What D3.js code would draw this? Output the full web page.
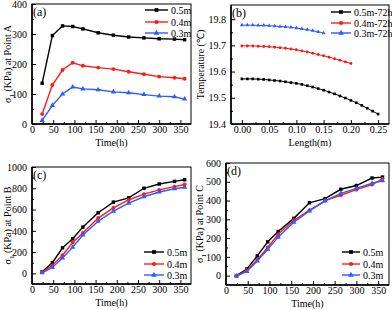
<!DOCTYPE html>
<html>
<head>
<meta charset="utf-8">
<script src="https://cdn.jsdelivr.net/npm/d3@7"></script>
<style>
  body { margin: 0; background: #fff; }
  svg text { font-family: "Liberation Serif", "Times New Roman", serif; }
</style>
</head>
<body>
<script>
// time points for panels a, c, d
let hours = [24, 48, 72, 96, 120, 156, 192, 228, 264, 300, 336, 360];
let depthNames = ["0.5m", "0.4m", "0.3m"];

// panel (a): stress at point A
let pointA05 = [136, 295, 327, 325, 317, 304, 296, 290, 287, 284, 283, 281];
let pointA04 = [33, 130, 180, 204, 194, 188, 183, 174, 166, 158, 154, 151];
let pointA03 = [12, 62, 100, 123, 117, 114, 107, 104, 98, 93, 91, 83];

// panel (b): temperature along length at 72h
let lengthStep = [0, 0.01, 0.02, 0.03, 0.04, 0.05, 0.06, 0.07, 0.08, 0.09, 0.10, 0.11, 0.12,
  0.13, 0.14, 0.15, 0.16, 0.17, 0.18, 0.19, 0.20, 0.21, 0.22, 0.23, 0.24, 0.25];
let temp05 = [19.572, 19.572, 19.572, 19.571, 19.570, 19.568, 19.566, 19.564, 19.561, 19.558,
  19.555, 19.551, 19.546, 19.541, 19.535, 19.529, 19.522, 19.515, 19.507, 19.499, 19.490,
  19.481, 19.471, 19.460, 19.449, 19.438];
let temp04 = [19.698, 19.698, 19.698, 19.697, 19.696, 19.695, 19.693, 19.691, 19.689, 19.686,
  19.683, 19.679, 19.675, 19.670, 19.665, 19.660, 19.655, 19.649, 19.643, 19.637, 19.631];
let temp03 = [19.777, 19.777, 19.777, 19.776, 19.776, 19.775, 19.774, 19.772, 19.771, 19.769,
  19.766, 19.763, 19.760, 19.756, 19.752, 19.747];
let tempNames = ["0.5m-72h", "0.4m-72h", "0.3m-72h"];

// panel (c): stress at point B
let pointB05 = [15, 100, 240, 325, 435, 570, 670, 710, 800, 840, 865, 880];
let pointB04 = [10, 75, 170, 290, 380, 520, 615, 690, 745, 785, 815, 835];
let pointB03 = [5, 55, 145, 245, 360, 490, 585, 660, 720, 765, 795, 810];

// panel (d): stress at point C
let pointC05 = [0, 35, 105, 180, 235, 305, 388, 410, 460, 480, 520, 525];
let pointC04 = [-2, 28, 85, 150, 220, 295, 348, 400, 428, 458, 485, 515];
let pointC03 = [-2, 22, 78, 140, 205, 285, 345, 398, 438, 465, 492, 505];

let colors = ["#000000", "#ff1a1a", "#2f5bff"];
let shapes = [d3.symbolSquare, d3.symbolCircle, d3.symbolTriangle];

let svg = d3.select("body").append("svg")
  .attr("width", 392)
  .attr("height", 310);

function drawPanel(opt) {
  let x = d3.scaleLinear().domain(opt.xDomain).range([opt.left, opt.right]);
  let y = d3.scaleLinear().domain(opt.yDomain).range([opt.bottom, opt.top]);
  let g = svg.append("g");

  // minor ticks
  let xMinor = d3.axisBottom(x).tickValues(opt.xMinor).tickSize(-2).tickFormat("");
  let yMinor = d3.axisLeft(y).tickValues(opt.yMinor).tickSize(-2).tickFormat("");
  g.append("g").attr("transform", "translate(0," + opt.bottom + ")").call(xMinor);
  g.append("g").attr("transform", "translate(" + opt.left + ",0)").call(yMinor);

  // major ticks
  let xAxis = d3.axisBottom(x).tickValues(opt.xTicks).tickSize(-4).tickPadding(2)
    .tickFormat(opt.xFormat);
  let yAxis = d3.axisLeft(y).tickValues(opt.yTicks).tickSize(-4).tickPadding(5)
    .tickFormat(opt.yFormat);
  g.append("g").attr("transform", "translate(0," + opt.bottom + ")").call(xAxis);
  g.append("g").attr("transform", "translate(" + opt.left + ",0)").call(yAxis);

  g.selectAll(".domain").remove();
  g.selectAll(".tick line").attr("stroke", "#000").attr("stroke-width", 1);
  g.selectAll(".tick text").attr("font-size", 10).attr("fill", "#000");

  // frame
  g.append("rect")
    .attr("x", opt.left).attr("y", opt.top)
    .attr("width", opt.right - opt.left).attr("height", opt.bottom - opt.top)
    .attr("fill", "none").attr("stroke", "#000").attr("stroke-width", 1);
  g.append("line").attr("x1", opt.left).attr("x2", opt.left)
    .attr("y1", opt.top).attr("y2", opt.bottom)
    .attr("stroke", "#000").attr("stroke-width", 1.6);
  g.append("line").attr("x1", opt.left).attr("x2", opt.right)
    .attr("y1", opt.bottom).attr("y2", opt.bottom)
    .attr("stroke", "#000").attr("stroke-width", 1.6);

  // series
  let line = d3.line().x(d => x(d[0])).y(d => y(d[1]));
  opt.series.forEach(function(vals, i) {
    let pts = vals.map((v, k) => [opt.xs[k], v]);
    g.append("path").datum(pts)
      .attr("d", line)
      .attr("fill", "none")
      .attr("stroke", colors[i])
      .attr("stroke-width", opt.lineWidth);
    g.selectAll(".m" + i).data(pts).enter()
      .append("path")
      .attr("transform", d => "translate(" + x(d[0]) + "," + y(d[1]) + ")")
      .attr("d", d3.symbol().type(shapes[i]).size(opt.markSize))
      .attr("fill", colors[i]);
  });

  // legend
  opt.names.forEach(function(name, i) {
    let ly = opt.legendY[i];
    g.append("line")
      .attr("x1", opt.legendX).attr("x2", opt.legendX + opt.legendLen)
      .attr("y1", ly).attr("y2", ly)
      .attr("stroke", colors[i]).attr("stroke-width", 1.4);
    g.append("path")
      .attr("transform", "translate(" + (opt.legendX + opt.legendLen / 2) + "," + ly + ")")
      .attr("d", d3.symbol().type(shapes[i]).size(14))
      .attr("fill", colors[i]);
    g.append("text")
      .attr("x", opt.legendX + opt.legendLen + 3).attr("y", ly + 3.5)
      .attr("font-size", 10).text(name);
  });

  // panel letter
  g.append("text").attr("x", opt.left + 1).attr("y", opt.top + 12)
    .attr("font-size", 12).text(opt.letter);

  // axis titles
  g.append("text")
    .attr("x", (opt.left + opt.right) / 2).attr("y", opt.bottom + 22)
    .attr("text-anchor", "middle").attr("font-size", 10)
    .text(opt.xTitle);
  let yt = g.append("text")
    .attr("transform", "translate(" + opt.yTitleX + "," + ((opt.top + opt.bottom) / 2) + ") rotate(-90)")
    .attr("text-anchor", "middle").attr("font-size", 10);
  if (opt.point) {
    yt.append("tspan").text("σ");
    yt.append("tspan").attr("font-size", 7).attr("dy", 3).text("1");
    yt.append("tspan").attr("dy", -3).text(" (KPa) at Point " + opt.point);
  } else {
    yt.text(opt.yTitle);
  }
}

let timeTicks = [0, 50, 100, 150, 200, 250, 300, 350];
let timeMinor = d3.range(25, 375, 50);

drawPanel({
  left: 32, right: 191, top: 4, bottom: 124,
  xDomain: [0, 375], yDomain: [0, 400],
  xTicks: timeTicks, xMinor: timeMinor,
  yTicks: [0, 100, 200, 300, 400], yMinor: [50, 150, 250, 350],
  xFormat: d3.format("d"), yFormat: d3.format("d"),
  xs: hours, series: [pointA05, pointA04, pointA03], names: depthNames,
  lineWidth: 1.4, markSize: 12,
  legendX: 145, legendLen: 23, legendY: [10, 22, 33],
  letter: "(a)", xTitle: "Time(h)", point: "A", yTitleX: 11
});

drawPanel({
  left: 231, right: 389, top: 5, bottom: 124,
  xDomain: [-0.02, 0.27], yDomain: [19.4, 19.854],
  xTicks: [0, 0.05, 0.1, 0.15, 0.2, 0.25], xMinor: [0.025, 0.075, 0.125, 0.175, 0.225],
  yTicks: [19.4, 19.5, 19.6, 19.7, 19.8], yMinor: [19.45, 19.55, 19.65, 19.75],
  xFormat: d3.format(".2f"), yFormat: d3.format(".1f"),
  xs: lengthStep, series: [temp05, temp04, temp03], names: tempNames,
  lineWidth: 1, markSize: 7,
  legendX: 331, legendLen: 20, legendY: [12, 23, 33],
  letter: "(b)", xTitle: "Length(m)", yTitle: "Temperature (℃)", yTitleX: 204
});

drawPanel({
  left: 32, right: 191, top: 167, bottom: 284,
  xDomain: [0, 375], yDomain: [-100, 1000],
  xTicks: timeTicks, xMinor: timeMinor,
  yTicks: [0, 200, 400, 600, 800, 1000], yMinor: [100, 300, 500, 700, 900],
  xFormat: d3.format("d"), yFormat: d3.format("d"),
  xs: hours, series: [pointB05, pointB04, pointB03], names: depthNames,
  lineWidth: 1.4, markSize: 12,
  legendX: 144, legendLen: 20, legendY: [252, 264, 275],
  letter: "(c)", xTitle: "Time(h)", point: "B", yTitleX: 11
});

drawPanel({
  left: 226, right: 389, top: 163, bottom: 285,
  xDomain: [0, 375], yDomain: [-50, 600],
  xTicks: timeTicks, xMinor: timeMinor,
  yTicks: [0, 100, 200, 300, 400, 500, 600], yMinor: [50, 150, 250, 350, 450, 550],
  xFormat: d3.format("d"), yFormat: d3.format("d"),
  xs: hours, series: [pointC05, pointC04, pointC03], names: depthNames,
  lineWidth: 1.4, markSize: 12,
  legendX: 342, legendLen: 18, legendY: [252, 264, 275],
  letter: "(d)", xTitle: "Time(h)", point: "C", yTitleX: 203
});
</script>
</body>
</html>
